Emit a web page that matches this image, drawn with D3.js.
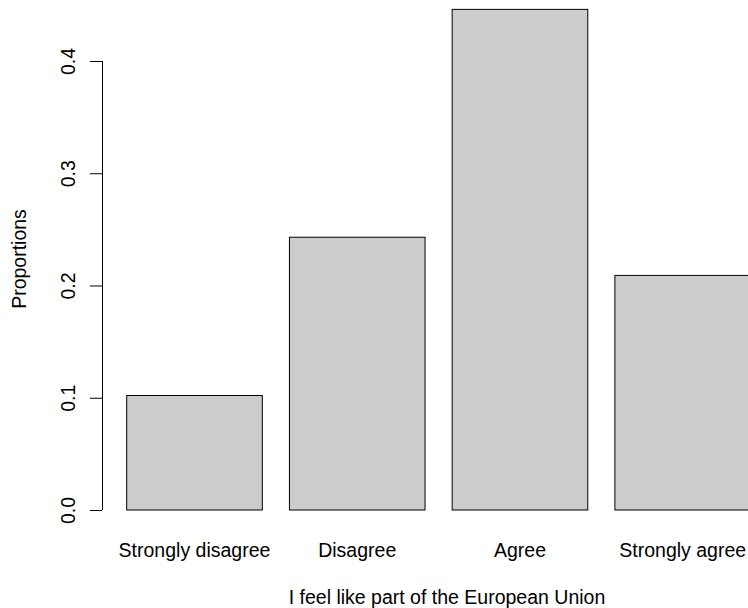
<!DOCTYPE html>
<html>
<head>
<meta charset="utf-8">
<script src="https://cdn.jsdelivr.net/npm/d3@7"></script>
<style>
  html, body { margin: 0; padding: 0; background: #fff; }
  svg { display: block; }
  text { font-family: "Liberation Sans", Arial, sans-serif; fill: #000; }
</style>
</head>
<body>
<svg id="chart" width="748" height="608"></svg>
<script>
const categories = ["Strongly disagree", "Disagree", "Agree", "Strongly agree"];
const proportions = [0.102, 0.243, 0.446, 0.209];
const yTicks = [0.0, 0.1, 0.2, 0.3, 0.4];
const xTitle = "I feel like part of the European Union";
const yTitle = "Proportions";

const svg = d3.select("#chart");
const FS = 19.5;

// R-style barplot: bars of width 1 with space 0.2, domain 0.2..4.8
const x = d3.scaleLinear().domain([0.2, 4.8]).range([126.7, 750.5]);
const y = d3.scaleLinear().domain([0, 0.4]).range([510, 61]);

const barLeft = i => 0.2 + i * 1.2;

svg.append("g")
  .selectAll("rect")
  .data(proportions)
  .join("rect")
  .attr("x", (d, i) => x(barLeft(i)))
  .attr("width", (d, i) => x(barLeft(i) + 1) - x(barLeft(i)))
  .attr("y", d => y(d))
  .attr("height", d => y(0) - y(d))
  .attr("fill", "#cccccc")
  .attr("stroke", "#000")
  .attr("stroke-width", 1);

// Y axis
const yAxis = d3.axisLeft(y).tickValues(yTicks).tickFormat(d3.format(".1f")).tickSize(12).tickSizeOuter(0);
const gy = svg.append("g").attr("transform", "translate(102,0)").call(yAxis);
gy.select(".domain").attr("stroke", "#000").attr("d", `M0.5,${y(0.4)}V${y(0)}`);
gy.selectAll(".tick line").attr("stroke", "#000");
gy.selectAll(".tick text")
  .attr("font-size", FS)
  .attr("font-family", "Liberation Sans, Arial, sans-serif")
  .attr("fill", "#000")
  .attr("text-anchor", "middle")
  .attr("x", null).attr("dy", null)
  .attr("transform", "translate(-27,0) rotate(-90)");

// Category labels
svg.append("g")
  .selectAll("text")
  .data(categories)
  .join("text")
  .attr("x", (d, i) => x(barLeft(i) + 0.5))
  .attr("y", 557)
  .attr("text-anchor", "middle")
  .attr("font-size", FS)
  .text(d => d);

// Axis titles
svg.append("text")
  .attr("x", 447)
  .attr("y", 604)
  .attr("text-anchor", "middle")
  .attr("font-size", FS)
  .text(xTitle);

svg.append("text")
  .attr("transform", "translate(26,259) rotate(-90)")
  .attr("text-anchor", "middle")
  .attr("font-size", FS)
  .text(yTitle);
</script>
</body>
</html>
